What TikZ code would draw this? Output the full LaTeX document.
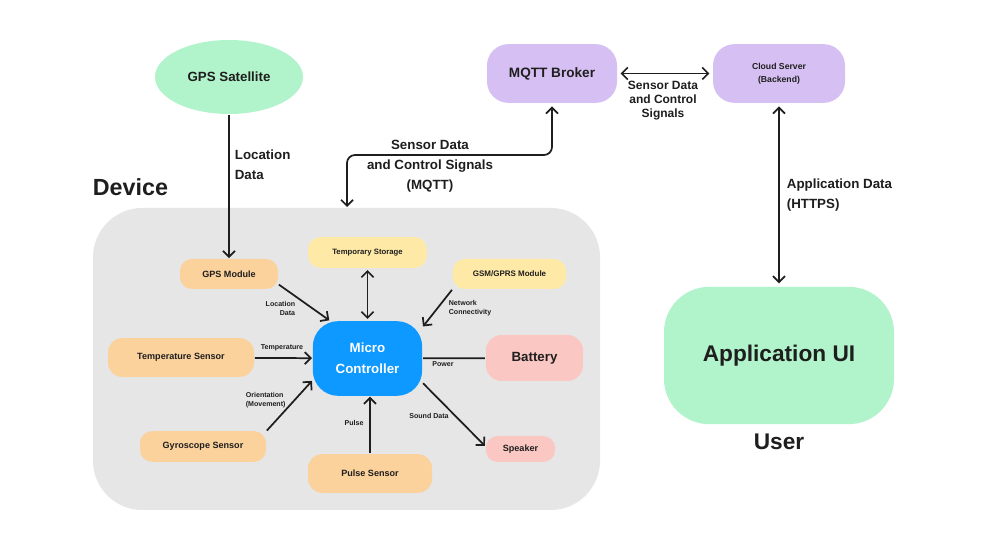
\documentclass[tikz,border=0pt]{standalone}
\usepackage{fontspec}
\setmainfont{Liberation Sans}
\usetikzlibrary{arrows.meta,shapes.geometric}
\definecolor{gruen}{HTML}{B1F3CA}
\definecolor{lila}{HTML}{D6C0F3}
\definecolor{geraet}{HTML}{E6E6E6}
\definecolor{sensor}{HTML}{FBD19C}
\definecolor{speicher}{HTML}{FFE9A6}
\definecolor{rosa}{HTML}{FBC7C3}
\definecolor{mcblau}{HTML}{0D99FF}
\definecolor{schrift}{HTML}{1E1E1E}
\begin{document}
\begin{tikzpicture}[x=0.75pt, y=-0.75pt, line width=1.3pt,
  >={Straight Barb[length=4.5pt,width=9pt]},
  kasten/.style={rounded corners=9pt, inner sep=0pt, align=center, text=schrift,
    font=\bfseries\fontsize{6.8}{8}\selectfont},
  klein/.style={text=schrift, inner sep=0pt, font=\bfseries\fontsize{5.3}{6.75}\selectfont},
  gross/.style={text=schrift, inner sep=0pt, font=\bfseries\fontsize{10}{15}\selectfont}]
\fill[white] (0,0) rectangle (993,559);
\useasboundingbox (0,0) rectangle (993,559);
% Geraet als grauer Hintergrund
\fill[geraet, rounded corners=37pt] (93,208) rectangle (600,510);
\node[anchor=west, inner sep=0pt, text=schrift, font=\bfseries\fontsize{17.5}{20}\selectfont] (devtitle) at (92,187) {Device};
% Aussenwelt: Satellit, Broker, Server, App
\node[ellipse, fill=gruen, minimum width=111pt, minimum height=55.5pt, inner sep=0pt, text=schrift,
  font=\bfseries\fontsize{10}{12}\selectfont] (sat) at (229,77) {GPS Satellite};
\node[kasten, fill=lila, rounded corners=16pt, minimum width=97.5pt, minimum height=44pt,
  font=\bfseries\fontsize{10.2}{12}\selectfont] (mqtt) at (552,73.5) {MQTT Broker};
\node[kasten, fill=lila, rounded corners=16pt, minimum width=99pt, minimum height=44pt,
  font=\bfseries\fontsize{6.5}{9.75}\selectfont] (cloud) at (779,73.5) {Cloud Server\\(Backend)};
\node[kasten, fill=gruen, rounded corners=34pt, minimum width=172.5pt, minimum height=103pt,
  font=\bfseries\fontsize{17}{20}\selectfont] (app) at (779,355.5) {Application UI};
\node[inner sep=0pt, text=schrift, font=\bfseries\fontsize{17}{20}\selectfont] (user) at (779,442) {User};
% Bausteine im Geraet
\node[kasten, fill=speicher, minimum width=89pt, minimum height=23pt,
  font=\bfseries\fontsize{5.8}{7}\selectfont] (store) at (367.5,252.5) {Temporary Storage};
\node[kasten, fill=sensor, minimum width=73.5pt, minimum height=22.5pt] (gpsmod) at (229,274) {GPS Module};
\node[kasten, fill=speicher, minimum width=85pt, minimum height=22.5pt,
  font=\bfseries\fontsize{6}{7}\selectfont] (gsm) at (509.5,274) {GSM/GPRS Module};
\node[kasten, fill=mcblau, text=white, rounded corners=19pt, minimum width=82pt, minimum height=56pt,
  font=\bfseries\fontsize{10}{15.75}\selectfont] (mc) at (367.5,358.5) {Micro\\Controller};
\node[kasten, fill=sensor, rounded corners=10.5pt, minimum width=109.5pt, minimum height=29pt] (temp) at (181,357.5) {Temperature Sensor};
\node[kasten, fill=rosa, rounded corners=12pt, minimum width=73pt, minimum height=34.5pt,
  font=\bfseries\fontsize{10}{12}\selectfont] (bat) at (534.5,358) {Battery};
\node[kasten, fill=sensor, minimum width=94.5pt, minimum height=23pt] (gyro) at (203,446.5) {Gyroscope Sensor};
\node[kasten, fill=sensor, rounded corners=10.5pt, minimum width=93pt, minimum height=29pt] (pulse) at (370,473.5) {Pulse Sensor};
\node[kasten, fill=rosa, minimum width=52pt, minimum height=19.5pt] (spk) at (520.5,449) {Speaker};
% Verbindungen aussen
\coordinate (devin) at (347,207);
\coordinate (knick) at (552,155);
\draw[schrift, ->] (sat) -- (gpsmod);
\draw[schrift, <->, shorten <=2pt, shorten >=2pt] (mqtt) -- (cloud);
\draw[schrift, <->, shorten <=2pt, shorten >=2pt] (cloud) -- (app);
\draw[schrift, <->, rounded corners=6pt, shorten >=2pt] (devin) |- (knick) -- (mqtt.south);
% Verbindungen innen
\draw[schrift, ->] (gpsmod.-12) -- (mc.135);
\draw[schrift, <->, shorten <=1pt, shorten >=1pt] (store) -- (mc);
\draw[schrift, ->] (gsm.south west) -- (mc.30);
\draw[schrift, ->] (temp) -- (mc);
\draw[schrift] (bat) -- (mc);
\draw[schrift, ->] (gyro.14) -- (mc.202);
\draw[schrift, ->] (pulse.north) -- (pulse.north |- mc.south);
\draw[schrift, ->] (mc.-24) -- (spk.175);
% Beschriftungen
\node[gross, anchor=west, align=left] (lbgps) at (234,165) {Location\\Data};
\node[gross, align=center] (lbmqtt) at (430,166) {Sensor Data\\and Control Signals\\(MQTT)};
\node[gross, align=center, font=\bfseries\fontsize{9}{10.5}\selectfont] (lbcloud) at (663,101) {Sensor Data\\and Control\\Signals};
\node[gross, anchor=west, align=left] (lbapp) at (786,195) {Application Data\\(HTTPS)};
\node[klein, anchor=east, align=right] (lbloc) at (296,308.5) {Location\\Data};
\node[klein, anchor=west, align=left] (lbnet) at (448,308.5) {Network\\Connectivity};
\node[klein] (lbtemp) at (282,348) {Temperature};
\node[klein] (lbpow) at (443,364) {Power};
\node[klein, anchor=west, align=left] (lbori) at (245,400.5) {Orientation\\(Movement)};
\node[klein] (lbpulse) at (354,423) {Pulse};
\node[klein] (lbsound) at (429,416) {Sound Data};
\end{tikzpicture}
\end{document}
